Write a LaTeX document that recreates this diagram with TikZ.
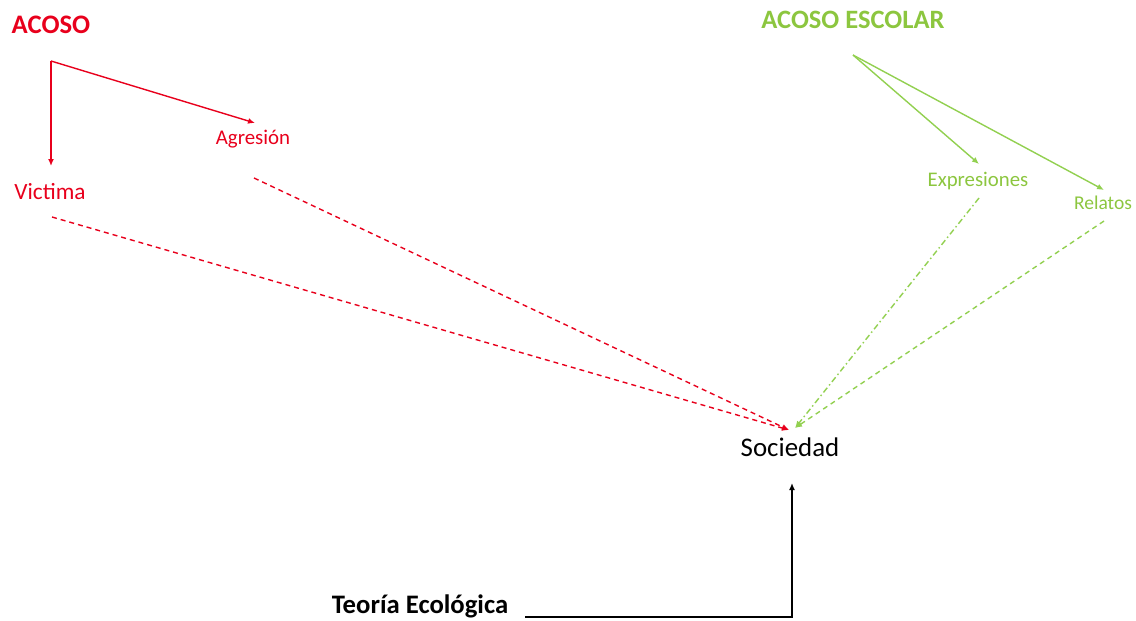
\documentclass[tikz,border=0pt]{standalone}
\usepackage{fontspec}
\setmainfont{Carlito}
\usetikzlibrary{arrows.meta}
\definecolor{myred}{RGB}{232,0,28}
\definecolor{mygreen}{RGB}{146,208,80}
\definecolor{mygreentext}{RGB}{140,198,63}
\begin{document}
\begin{tikzpicture}[x=1pt,y=-1pt,
  lbl/.style={inner sep=0pt,anchor=center},
  tip/.style={-{Latex[length=7pt,width=6pt]}},
  redline/.style={draw=myred,line width=1.4pt,tip},
  greenline/.style={draw=mygreen,line width=1.4pt,tip},
  reddash/.style={draw=myred,line width=1.4pt,dash pattern=on 5pt off 4pt,tip},
  greendash/.style={draw=mygreen,line width=1.4pt,dash pattern=on 5pt off 4pt,tip},
  greendashdot/.style={draw=mygreen,line width=1.4pt,dash pattern=on 6pt off 3pt on 1.5pt off 3pt,tip},
  blackline/.style={draw=black,line width=1.4pt,tip}]
\useasboundingbox (0,0) rectangle (1136,621);
% nodes
\node[lbl,text=myred,font=\fontsize{26.7}{30}\selectfont\bfseries] (acoso) at (51,25) {ACOSO};
\node[lbl,text=mygreentext,font=\fontsize{26.5}{30}\selectfont\bfseries] (escolar) at (853,20) {ACOSO ESCOLAR};
\node[lbl,text=myred,font=\fontsize{23.3}{27}\selectfont] (victima) at (50,192) {Victima};
\node[lbl,text=myred,font=\fontsize{20.9}{25}\selectfont] (agresion) at (253,139) {Agresión};
\node[lbl,text=mygreentext,font=\fontsize{20.8}{25}\selectfont] (expresiones) at (978,181) {Expresiones};
\node[lbl,text=mygreentext,font=\fontsize{19.5}{23}\selectfont] (relatos) at (1103,203) {Relatos};
\node[lbl,text=black,font=\fontsize{26.9}{31}\selectfont] (sociedad) at (790,447) {Sociedad};
\node[lbl,text=black,font=\fontsize{26.7}{31}\selectfont\bfseries] (teoria) at (420,606) {Teoría Ecológica};
% coordinates
\coordinate (acosoO) at (51,61);
\coordinate (victimaIn) at (51,166);
\coordinate (agresionIn) at (255,123);
\coordinate (escolarO) at (853,55);
\coordinate (expIn) at (979,164);
\coordinate (relIn) at (1104,190);
\coordinate (victimaOut) at (52,217);
\coordinate (agresionOut) at (254,178);
\coordinate (expOut) at (979,198);
\coordinate (relOut) at (1104,221);
\coordinate (socRed) at (789,430);
\coordinate (socGreen) at (795,428);
\coordinate (socBottom) at (792,483);
\coordinate (teoriaOut) at (525,617);
\coordinate (corner) at (792,617);
% connectors
\draw[redline] (acosoO) -- (victimaIn);
\draw[redline] (acosoO) -- (agresionIn);
\draw[greenline] (escolarO) -- (expIn);
\draw[greenline] (escolarO) -- (relIn);
\draw[reddash] (victimaOut) -- (socRed);
\draw[reddash] (agresionOut) -- (socRed);
\draw[greendashdot] (expOut) -- (socGreen);
\draw[greendash] (relOut) -- (socGreen);
\draw[blackline] (teoriaOut) -- (corner) -- (socBottom);
\end{tikzpicture}
\end{document}
